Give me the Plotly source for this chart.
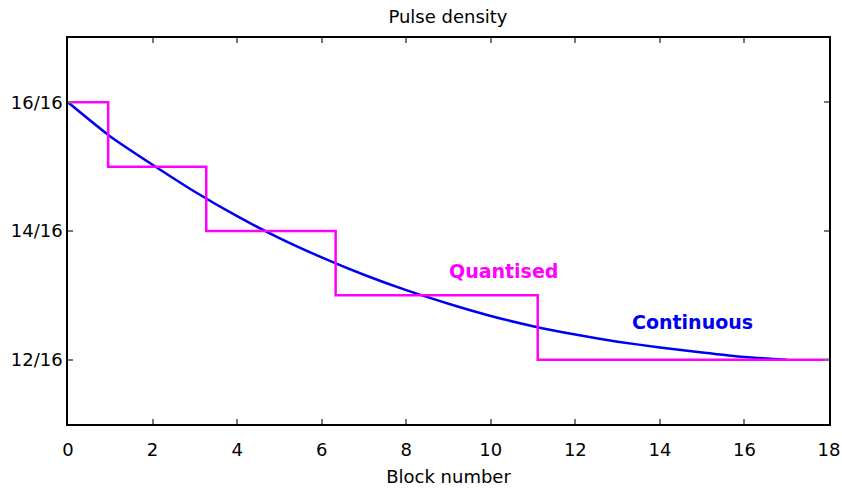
import plotly.graph_objects as go

# Values in sixteenths
block_cont = [0, 1, 2, 3, 4, 5, 6, 7, 8, 9, 10, 11, 12, 13, 14, 15, 16, 17]
density_cont = [16.0, 15.47, 15.03, 14.61, 14.23, 13.89, 13.59, 13.32, 13.08,
                12.87, 12.68, 12.52, 12.39, 12.28, 12.19, 12.11, 12.04, 12.0]

block_quant = [0, 0.95, 3.27, 6.33, 11.11, 18]
density_quant = [16, 15, 14, 13, 12, 12]

x_ticks = [0, 2, 4, 6, 8, 10, 12, 14, 16, 18]
y_ticks = [12, 14, 16]
y_tick_labels = ["12/16", "14/16", "16/16"]

FONT = "DejaVu Sans"

fig = go.Figure()
fig.add_trace(go.Scatter(x=block_cont, y=density_cont, mode="lines",
                         line=dict(color="#0000f0", width=2.5, shape="spline", smoothing=0.6),
                         name="Continuous", showlegend=False))
fig.add_trace(go.Scatter(x=block_quant, y=density_quant, mode="lines",
                         line=dict(color="#ff00ff", width=2.5, shape="hv"),
                         name="Quantised", showlegend=False))

fig.add_annotation(x=10.3, y=13.38, text="<b>Quantised</b>", showarrow=False,
                   font=dict(family=FONT, size=19, color="#ff00ff"))
fig.add_annotation(x=14.78, y=12.59, text="<b>Continuous</b>", showarrow=False,
                   font=dict(family=FONT, size=19, color="#0000f0"))

axis_common = dict(showline=True, linecolor="black", linewidth=1.5, mirror="ticks",
                   ticks="inside", ticklen=5, tickcolor="#777777", tickwidth=1.5,
                   showgrid=False, zeroline=False, automargin=False,
                   ticklabeloverflow="allow",
                   tickfont=dict(family=FONT, size=18, color="black"))

fig.update_layout(
    width=842, height=489,
    margin=dict(l=68, r=13, t=38, b=65),
    paper_bgcolor="white", plot_bgcolor="white",
    title=dict(text="Pulse density", x=0.532, xanchor="center", y=1 - 17 / 489,
               yanchor="middle", yref="container",
               font=dict(family=FONT, size=18, color="black")),
    xaxis=dict(range=[0, 18], tickvals=x_ticks, ticklabelstandoff=9,
               title=dict(text="Block number", standoff=11,
                          font=dict(family=FONT, size=18, color="black")),
               **axis_common),
    yaxis=dict(range=[11, 17], tickvals=y_ticks, ticktext=y_tick_labels, **axis_common),
)

fig.write_html("out.html")
